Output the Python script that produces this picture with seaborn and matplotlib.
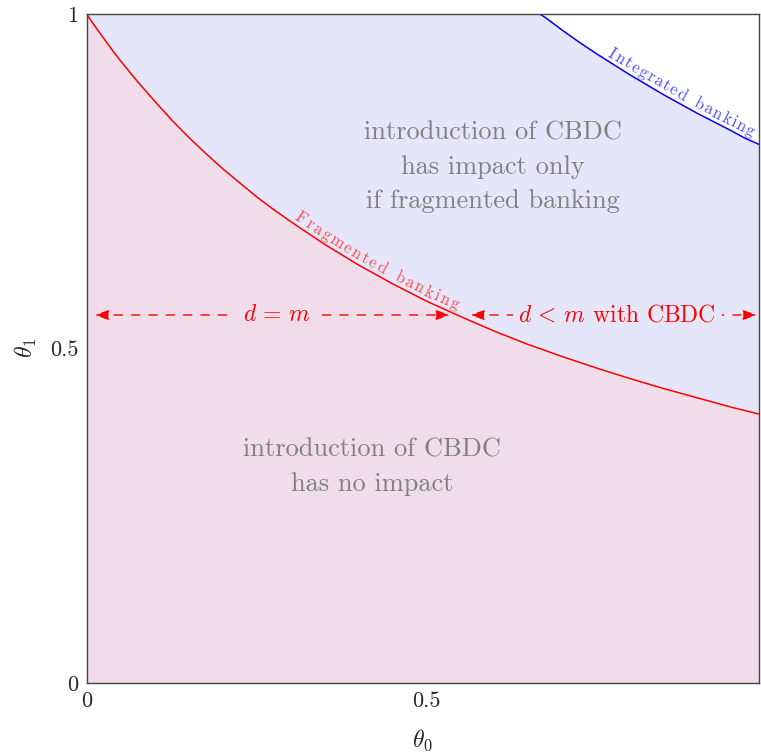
import matplotlib
matplotlib.use("Agg")
import matplotlib.pyplot as plt
from matplotlib.font_manager import FontProperties
import seaborn as sns
import numpy as np

# values
theta0_frag = [0.0, 0.01, 0.02, 0.03, 0.04, 0.05, 0.075, 0.10, 0.125, 0.15, 0.175, 0.20,
               0.225, 0.25, 0.275, 0.30, 0.35, 0.40, 0.45, 0.50, 0.55, 0.60, 0.65,
               0.70, 0.75, 0.80, 0.85, 0.90, 0.95, 0.99]
theta1_frag = [1.000, 0.985, 0.971, 0.957, 0.943, 0.930, 0.899, 0.870, 0.842, 0.816, 0.792,
               0.769, 0.748, 0.727, 0.708, 0.690, 0.656, 0.625, 0.597, 0.571, 0.548, 0.526,
               0.506, 0.488, 0.471, 0.455, 0.440, 0.426, 0.412, 0.402]
theta0_int = [0.667, 0.675, 0.70, 0.725, 0.75, 0.775, 0.80, 0.825, 0.85, 0.875, 0.90,
              0.925, 0.95, 0.97, 0.99]
theta1_int = [1.000, 0.995, 0.976, 0.958, 0.941, 0.925, 0.909, 0.894, 0.879, 0.865, 0.851,
              0.838, 0.825, 0.814, 0.805]

x_max = 0.99
arrow_y = 0.55
left_arrow = (0.012, 0.535)
right_arrow = (0.565, 0.987)

sns.set_theme(style="white")
plt.rcParams["font.family"] = ["cmr10", "DejaVu Serif"]
plt.rcParams["mathtext.fontset"] = "cm"
plt.rcParams["axes.formatter.use_mathtext"] = True

fig = plt.figure(figsize=(7.61, 7.54), dpi=100)
ax = fig.add_axes([0.1137, 0.0942, 0.8837, 0.8873])
ax.set_xlim(0, x_max)
ax.set_ylim(0, 1)

pink = "#f0dde9"
lavender = "#e6e6fa"

# regions
ax.fill_between(theta0_frag, theta1_frag, 1, color=lavender, lw=0)
ax.fill_between(theta0_int, theta1_int, 1, color="white", lw=0)
ax.fill_between(theta0_frag, 0, theta1_frag, color=pink, lw=0)

sns.lineplot(x=theta0_frag, y=theta1_frag, ax=ax, color="red", lw=1.1)
sns.lineplot(x=theta0_int, y=theta1_int, ax=ax, color="blue", lw=1.1)

renderer = fig.canvas.get_renderer()


def text_along(xs, ys, label, x_start, x_end, color, size, offset):
    # put each letter of label along the curve, above it, spread to fill the span
    fp = FontProperties(family="cmr10", size=size)
    widths = []
    for ch in label:
        w = renderer.get_text_width_height_descent(ch if ch != " " else "n", fp, ismath=False)[0]
        widths.append(w * 0.8 if ch == " " else w)
    widths = np.array(widths)
    pts = ax.transData.transform(np.column_stack([xs, ys]))
    seg = np.hypot(np.diff(pts[:, 0]), np.diff(pts[:, 1]))
    s = np.concatenate([[0], np.cumsum(seg)])
    s0 = np.interp(ax.transData.transform((x_start, 0))[0], pts[:, 0], s)
    s1 = np.interp(ax.transData.transform((x_end, 0))[0], pts[:, 0], s)
    track = (s1 - s0 - widths.sum()) / len(label)
    pos = s0
    for ch, w in zip(label, widths):
        si = pos + (w + track) / 2
        pos += w + track
        if ch == " ":
            continue
        px = np.interp(si, s, pts[:, 0])
        py = np.interp(si, s, pts[:, 1])
        dx = np.interp(si + 2, s, pts[:, 0]) - np.interp(si - 2, s, pts[:, 0])
        dy = np.interp(si + 2, s, pts[:, 1]) - np.interp(si - 2, s, pts[:, 1])
        ang = np.degrees(np.arctan2(dy, dx))
        nx, ny = -dy / np.hypot(dx, dy), dx / np.hypot(dx, dy)
        tx, ty = ax.transData.inverted().transform((px + nx * offset, py + ny * offset))
        ax.text(tx, ty, ch, color=color, fontsize=size, rotation=ang,
                ha="center", va="baseline", rotation_mode="anchor")


text_along(theta0_frag, theta1_frag, "Fragmented banking", 0.30, 0.543,
           "#ff4d4d", 12, 4)
text_along(theta0_int, theta1_int, "Integrated banking", 0.762, 0.978,
           "#4d4dff", 12, 4)

# dashed double arrows
for x0, x1 in [left_arrow, right_arrow]:
    ax.annotate("", xy=(x1, arrow_y), xytext=(x0, arrow_y),
                arrowprops=dict(arrowstyle="<|-|>,head_length=0.7,head_width=0.25",
                                color="red", lw=1.0, linestyle=(0, (6, 6.5)),
                                shrinkA=0, shrinkB=0))
ax.text(0.281, arrow_y, r"$d\,=\,m$", color="red", fontsize=17, ha="center", va="center",
        bbox=dict(facecolor=pink, edgecolor="none", pad=6))
ax.text(0.781, arrow_y, r"$d\,<\,m$ with CBDC", color="red", fontsize=17, ha="center",
        va="center", bbox=dict(facecolor=lavender, edgecolor="none", pad=4))

# region descriptions
ax.text(0.598, 0.771, "introduction of CBDC\nhas impact only\nif fragmented banking",
        color="gray", fontsize=19, ha="center", va="center", linespacing=1.55)
ax.text(0.420, 0.323, "introduction of CBDC\nhas no impact",
        color="gray", fontsize=19, ha="center", va="center", linespacing=1.55)

ax.set_xticks([0, 0.5])
ax.set_xticklabels(["0", "0.5"])
ax.set_yticks([0, 0.5, 1])
ax.set_yticklabels(["0", "0.5", "1"])
ax.tick_params(axis="both", direction="in", length=5, width=0.6, color="#888888",
               labelsize=16, top=True, right=True, bottom=True, left=True, pad=6)
ax.set_xlabel(r"$\theta_0$", fontsize=17, labelpad=12)
ax.set_ylabel(r"$\theta_1$", fontsize=17, labelpad=8)
for s in ax.spines.values():
    s.set_color("#444444")
    s.set_linewidth(1.0)

fig.savefig("out.png", dpi=100)
